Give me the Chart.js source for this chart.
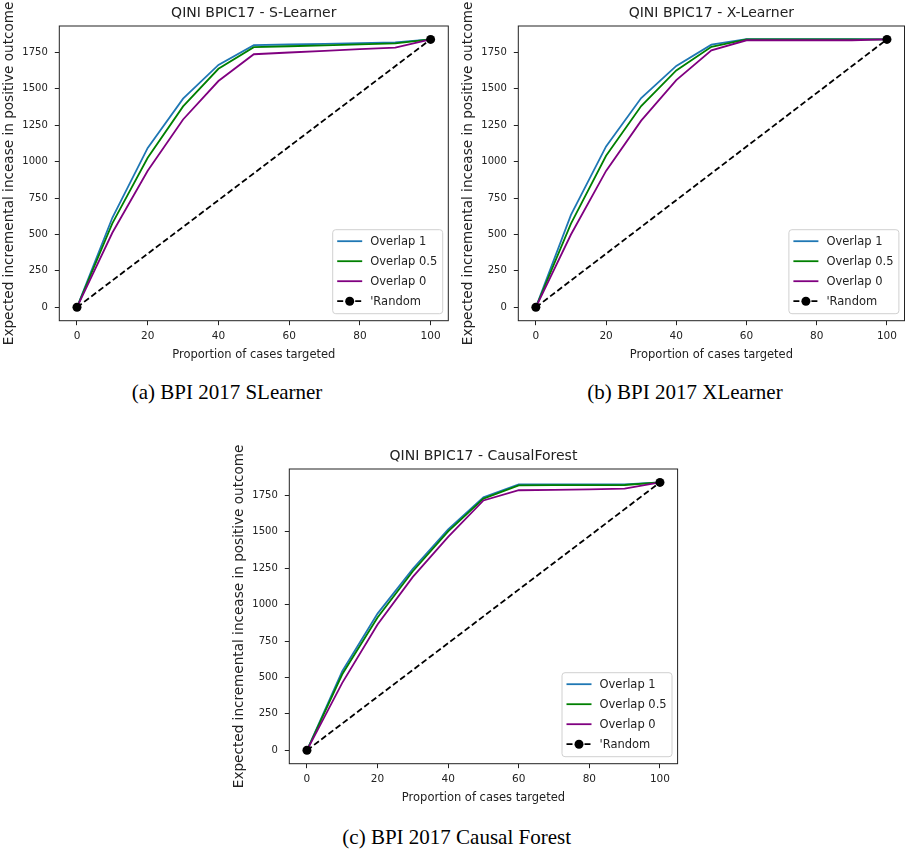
<!DOCTYPE html>
<html><head><meta charset="utf-8">
<script src="https://cdn.jsdelivr.net/npm/chart.js@4.4.1/dist/chart.umd.min.js"></script>
<style>
html,body{margin:0;padding:0;background:#fff;width:909px;height:851px;overflow:hidden;}
canvas{position:absolute;}
.cap{position:absolute;font-family:'Liberation Serif','Times New Roman',serif;font-size:21px;line-height:22px;color:#000;white-space:nowrap;transform:translateX(-50%);}
</style></head><body>
<canvas id="c1" width="455" height="372" style="left:0px;top:0px"></canvas>
<canvas id="c2" width="450" height="372" style="left:459px;top:0px"></canvas>
<canvas id="c3" width="455" height="372" style="left:229.7px;top:443.3px"></canvas>
<div class="cap" id="cap1" style="left:227px;top:381px"></div>
<div class="cap" id="cap2" style="left:685px;top:381px"></div>
<div class="cap" id="cap3" style="left:456.7px;top:825.7px"></div>
<script>
// ---- data ----
const xPct = [0, 10, 20, 30, 40, 50, 60, 70, 80, 90, 100];
const xTickValues = [0, 20, 40, 60, 80, 100];
const yTickValues = [0, 250, 500, 750, 1000, 1250, 1500, 1750];
const seriesLabels = ['Overlap 1', 'Overlap 0.5', 'Overlap 0', "'Random"];
const randomX = [0, 100];
const randomY = [0, 1840];

const sLearnerO1  = [0, 615, 1095, 1433, 1665, 1800, 1805, 1809, 1814, 1819, 1840];
const sLearnerO05 = [0, 577, 1027, 1380, 1638, 1787, 1793, 1799, 1806, 1812, 1840];
const sLearnerO0  = [0, 512, 938, 1290, 1554, 1738, 1750, 1761, 1773, 1784, 1840];

const xLearnerO1  = [0, 635, 1105, 1437, 1658, 1804, 1842, 1842, 1842, 1842, 1840];
const xLearnerO05 = [0, 575, 1041, 1382, 1627, 1789, 1840, 1840, 1840, 1840, 1840];
const xLearnerO0  = [0, 500, 937, 1282, 1560, 1765, 1834, 1834, 1834, 1834, 1840];

const cForestO1  = [0, 543, 939, 1246, 1518, 1738, 1826, 1826, 1826, 1826, 1840];
const cForestO05 = [0, 522, 912, 1230, 1503, 1729, 1820, 1821, 1821, 1822, 1840];
const cForestO0  = [0, 463, 864, 1191, 1466, 1716, 1786, 1789, 1792, 1797, 1840];

const panelTitles = ['QINI BPIC17 - S-Learner', 'QINI BPIC17 - X-Learner', 'QINI BPIC17 - CausalForest'];
const captions = ['(a) BPI 2017 SLearner', '(b) BPI 2017 XLearner', '(c) BPI 2017 Causal Forest'];
const xAxisTitle = 'Proportion of cases targeted';
const yAxisTitle = 'Expected incremental incease in positive outcome';

// ---- rendering ----
Chart.defaults.font.family = "'DejaVu Sans', sans-serif";
Chart.defaults.color = '#222';
const colors = ['#1f77b4', '#008000', '#800080', '#000000'];
const TXT = '#222';

const framePlugin = {
  id: 'frameLegend',
  afterDatasetsDraw(chart) {
    const a = chart.chartArea, ctx = chart.ctx;
    ctx.save();
    ctx.strokeStyle = '#222';
    ctx.lineWidth = 1;
    ctx.strokeRect(a.left, a.top, a.right - a.left, a.bottom - a.top);
    ctx.restore();
  },
  afterDraw(chart) {
    const a = chart.chartArea, ctx = chart.ctx;
    ctx.save();
    // panel title, centred over the plot area
    ctx.fillStyle = TXT;
    ctx.font = "14px 'DejaVu Sans', sans-serif";
    ctx.textAlign = 'center';
    ctx.textBaseline = 'middle';
    ctx.fillText(chart.options.panelTitle, (a.left + a.right) / 2, 13.8);
    // legend
    const w = 110, h = 84;
    const x0 = a.right - 5.6 - w, y0 = a.bottom - 7 - h;
    ctx.beginPath();
    ctx.roundRect(x0, y0, w, h, 3);
    ctx.fillStyle = 'rgba(255,255,255,0.85)';
    ctx.fill();
    ctx.strokeStyle = '#d0d0d0';
    ctx.lineWidth = 1;
    ctx.stroke();
    chart.data.datasets.forEach((ds, i) => {
      const y = y0 + 11.5 + i * 20;
      ctx.beginPath();
      ctx.strokeStyle = ds.borderColor;
      ctx.lineWidth = ds.borderWidth;
      ctx.setLineDash(ds.borderDash || []);
      ctx.moveTo(x0 + 4.5, y);
      ctx.lineTo(x0 + 29.5, y);
      ctx.stroke();
      ctx.setLineDash([]);
      if (ds.pointRadius > 0) {
        ctx.beginPath();
        ctx.fillStyle = ds.pointBackgroundColor;
        ctx.arc(x0 + 17, y, ds.pointRadius, 0, Math.PI * 2);
        ctx.fill();
      }
      ctx.fillStyle = TXT;
      ctx.font = "11.5px 'DejaVu Sans', sans-serif";
      ctx.textBaseline = 'middle';
      ctx.textAlign = 'left';
      ctx.fillText(ds.label, x0 + 37.5, y + 0.5);
    });
    ctx.restore();
  }
};

function pts(xs, ys) { return xs.map((x, i) => ({x: x, y: ys[i]})); }

function makeChart(id, title, o1, o05, o0, rightPad) {
  const series = [o1, o05, o0];
  const datasets = series.map((s, i) => ({
    label: seriesLabels[i],
    data: pts(xPct, s),
    borderColor: colors[i],
    backgroundColor: colors[i],
    borderWidth: 1.8,
    pointRadius: 0,
    tension: 0,
    order: 3 - i
  }));
  datasets.push({
    label: seriesLabels[3],
    data: pts(randomX, randomY),
    borderColor: colors[3],
    backgroundColor: colors[3],
    pointBackgroundColor: colors[3],
    pointBorderColor: colors[3],
    borderWidth: 1.8,
    borderDash: [6, 3],
    pointRadius: 4.5,
    pointBorderWidth: 0,
    tension: 0,
    order: 0
  });
  return new Chart(document.getElementById(id), {
    type: 'line',
    data: {datasets: datasets},
    plugins: [framePlugin],
    options: {
      panelTitle: title,
      responsive: false,
      animation: false,
      events: [],
      layout: {padding: {left: 0, right: rightPad, top: 26, bottom: 0}},
      plugins: {
        legend: {display: false},
        tooltip: {enabled: false},
        title: {display: false}
      },
      scales: {
        x: {
          type: 'linear', min: -5, max: 105,
          afterBuildTicks: s => { s.ticks = xTickValues.map(v => ({value: v})); },
          afterFit: s => { s.height = 51.3; },
          grid: {display: true, drawOnChartArea: false, drawTicks: true, tickLength: 4.5, color: TXT, tickWidth: 1},
          border: {display: false},
          ticks: {padding: 5, font: {size: 10.5}, color: TXT, maxRotation: 0, callback: v => String(v)},
          title: {display: true, text: xAxisTitle, color: TXT, font: {size: 11.5, lineHeight: 1.2}, padding: {top: 0, bottom: 10.1}}
        },
        y: {
          type: 'linear', min: -92, max: 1932,
          afterBuildTicks: s => { s.ticks = yTickValues.map(v => ({value: v})); },
          afterFit: s => { s.width = 59.3; },
          grid: {display: true, drawOnChartArea: false, drawTicks: true, tickLength: 4.5, color: TXT, tickWidth: 1},
          border: {display: false},
          ticks: {padding: 7, font: {size: 10}, color: TXT, callback: v => String(v)},
          title: {display: true, text: yAxisTitle, color: TXT, font: {size: 13.6, lineHeight: 1.2}, padding: {top: 1.8, bottom: 0}}
        }
      }
    }
  });
}

makeChart('c1', panelTitles[0], sLearnerO1, sLearnerO05, sLearnerO0, 6.7);
makeChart('c2', panelTitles[1], xLearnerO1, xLearnerO05, xLearnerO0, 1.7);
makeChart('c3', panelTitles[2], cForestO1, cForestO05, cForestO0, 7.4);
document.getElementById('cap1').textContent = captions[0];
document.getElementById('cap2').textContent = captions[1];
document.getElementById('cap3').textContent = captions[2];
</script>
</body></html>
